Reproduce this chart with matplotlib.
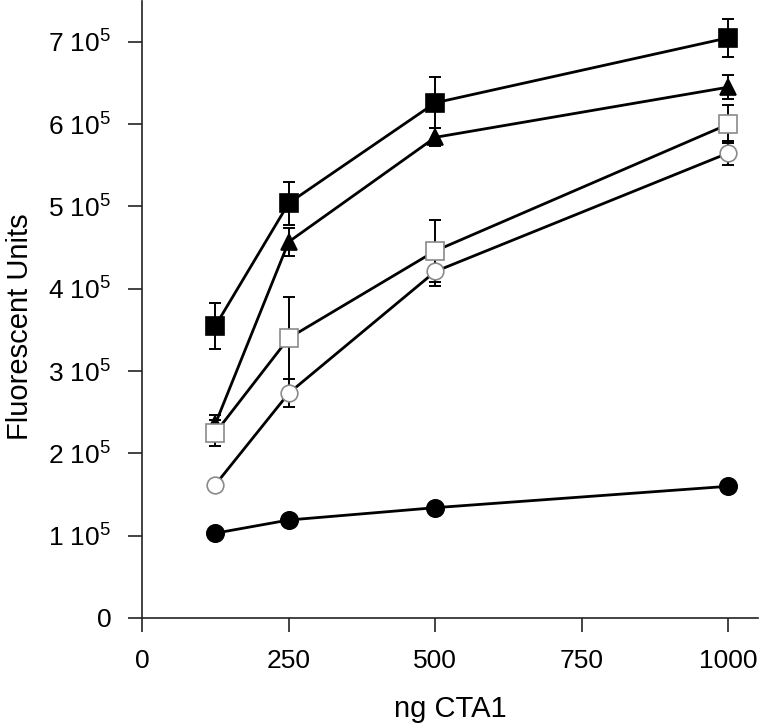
import numpy as np
import matplotlib
matplotlib.use("Agg")
import matplotlib.pyplot as plt

plt.rcParams['font.family'] = ['Liberation Sans', 'DejaVu Sans']
plt.rcParams['mathtext.fontset'] = 'custom'
plt.rcParams['mathtext.rm'] = 'Liberation Sans'
plt.rcParams['mathtext.it'] = 'Liberation Sans:italic'
plt.rcParams['mathtext.bf'] = 'Liberation Sans:bold'

# ng CTA1
ng_cta1 = [125, 250, 500, 1000]

# series values (fluorescent units) and error bars
filled_square = [3.55e5, 5.04e5, 6.26e5, 7.05e5]
filled_square_err = [0.28e5, 0.26e5, 0.31e5, 0.23e5]

filled_triangle = [2.36e5, 4.57e5, 5.84e5, 6.45e5]
filled_triangle_err = [0.11e5, 0.17e5, 0.11e5, 0.15e5]

open_square = [2.25e5, 3.40e5, 4.46e5, 6.00e5]
open_square_err = [0.16e5, 0.50e5, 0.38e5, 0.23e5]

open_circle = [1.62e5, 2.73e5, 4.21e5, 5.65e5]
open_circle_err = [0.0, 0.17e5, 0.18e5, 0.15e5]

filled_circle = [1.03e5, 1.19e5, 1.34e5, 1.60e5]
filled_circle_err = [0.0, 0.0, 0.0, 0.0]

x_ticks = [0, 250, 500, 750, 1000]
y_ticks = [0, 1e5, 2e5, 3e5, 4e5, 5e5, 6e5, 7e5]
y_tick_labels = ['0'] + [r'$\mathregular{%d\ 10^{5}}$' % i for i in range(1, 8)]

fig = plt.figure(figsize=(7.6, 7.27), dpi=100)
ax = fig.add_axes([0.187, 0.150, 0.810, 0.849])

series = [
    (filled_square, filled_square_err, 's', 'black', 'black', 13),
    (filled_triangle, filled_triangle_err, '^', 'black', 'black', 12),
    (open_square, open_square_err, 's', 'white', '#8a8a8a', 13),
    (open_circle, open_circle_err, 'o', 'white', '#8a8a8a', 12),
    (filled_circle, filled_circle_err, 'o', 'black', 'black', 12.5),
]

for vals, err, mk, face, edge, ms in series:
    ax.errorbar(ng_cta1, vals, yerr=err, fmt='none', ecolor='black',
                elinewidth=1.4, capsize=4, capthick=1.4, zorder=2)
    ax.plot(ng_cta1, vals, color='black', lw=2.0, zorder=3)
    ax.plot(ng_cta1, vals, linestyle='none', marker=mk, markersize=ms,
            markerfacecolor=face, markeredgecolor=edge, markeredgewidth=1.2,
            zorder=4)

ax.set_xlim(0, 1050)
ax.set_ylim(0, 7.5e5)
ax.set_xticks(x_ticks)
ax.set_yticks(y_ticks)
ax.set_yticklabels(y_tick_labels)

ax.spines['top'].set_visible(False)
ax.spines['right'].set_visible(False)
for s in ['left', 'bottom']:
    ax.spines[s].set_linewidth(1.2)
    ax.spines[s].set_color('#222222')

ax.tick_params(axis='both', direction='out', length=10, width=1.2,
               color='#222222', labelsize=19)
ax.tick_params(axis='x', pad=12)
ax.tick_params(axis='y', pad=12)

ax.set_xlabel('ng CTA1', fontsize=21, labelpad=16)
ax.set_ylabel('Fluorescent Units', fontsize=21)
ax.yaxis.set_label_coords(-0.176, 0.472)

fig.savefig('out.png', dpi=100, facecolor='white')
